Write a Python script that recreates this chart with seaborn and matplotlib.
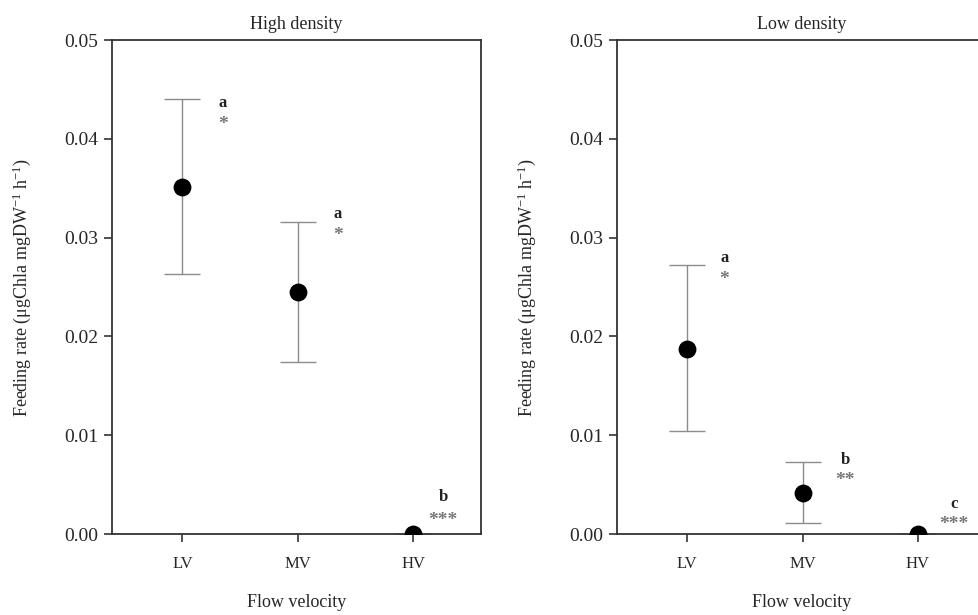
import numpy as np
import pandas as pd
import matplotlib
matplotlib.use("Agg")
import matplotlib.pyplot as plt
import seaborn as sns

# values
categories = ["LV", "MV", "HV"]
high_mean = [0.0351, 0.0245, 0.0]
high_upper = [0.0440, 0.0316, 0.0]
high_lower = [0.0263, 0.0174, 0.0]
high_letters = ["a", "a", "b"]
high_stars = ["*", "*", "***"]
high_label_dx = [0.35, 0.35, 0.26]
high_letter_y = [0.0436, 0.0324, 0.0037]
high_star_y = [0.0419, 0.0306, 0.0018]

low_mean = [0.0187, 0.0042, 0.0]
low_upper = [0.0272, 0.0073, 0.0]
low_lower = [0.0104, 0.0011, 0.0]
low_letters = ["a", "b", "c"]
low_stars = ["*", "**", "***"]
low_label_dx = [0.32, 0.37, 0.31]
low_letter_y = [0.0279, 0.0075, 0.0030]
low_star_y = [0.0262, 0.0058, 0.0014]

sns.set_style("white")
plt.rcParams['font.family'] = ['Liberation Serif', 'DejaVu Serif']
plt.rcParams['mathtext.default'] = 'regular'

fig = plt.figure(figsize=(9.79, 6.15), dpi=100)
ax1 = fig.add_axes([0.1144, 0.1317, 0.377, 0.803])
ax2 = fig.add_axes([0.6302, 0.1317, 0.377, 0.803])


def draw_panel(ax, title, mean, upper, lower, letters, stars, dx, letter_y, star_y):
    df = pd.DataFrame({"velocity": categories, "rate": mean})
    x = np.arange(len(categories))
    yerr = [np.array(mean) - np.array(lower), np.array(upper) - np.array(mean)]
    ax.errorbar(x, mean, yerr=yerr, fmt="none", ecolor="#8c8c8c",
                elinewidth=1.0, capsize=13, capthick=1.0, zorder=2)
    sns.scatterplot(data=df, x="velocity", y="rate", ax=ax, color="black",
                    s=165, edgecolor="black", linewidth=0, zorder=3)
    for xi, d, ly, sy, let, st in zip(x, dx, letter_y, star_y, letters, stars):
        ax.text(xi + d, ly, let, ha="center", va="center", fontsize=12,
                color="#222222", fontweight="bold")
        # asterisk glyph sits high in its box, shift box down a bit
        ax.text(xi + d, sy - 0.0004, st, ha="center", va="center", fontsize=14,
                color="#777777", fontweight="bold")
    ax.set_xlim(-0.61, 2.59)
    ax.set_ylim(0, 0.05)
    ax.set_yticks([0, 0.01, 0.02, 0.03, 0.04, 0.05])
    ax.set_yticklabels(["0.00", "0.01", "0.02", "0.03", "0.04", "0.05"], fontsize=14)
    ax.set_xticks(x)
    ax.set_xticklabels(categories, fontsize=12)
    ax.tick_params(axis="y", direction="out", length=6, width=1.2, left=True,
                   color="#333333", pad=4)
    ax.tick_params(axis="x", direction="out", length=6, width=1.2, bottom=True,
                   color="#333333", pad=10)
    for sp in ax.spines.values():
        sp.set_color("#333333")
        sp.set_linewidth(1.3)
    ax.set_title(title, fontsize=13, pad=8)
    ax.set_xlabel("Flow velocity", fontsize=13, labelpad=16)
    ax.set_ylabel("Feeding rate (μgChla mgDW$^{-1}$ h$^{-1}$)", fontsize=13,
                  labelpad=22)


draw_panel(ax1, "High density", high_mean, high_upper, high_lower,
           high_letters, high_stars, high_label_dx, high_letter_y, high_star_y)
draw_panel(ax2, "Low density", low_mean, low_upper, low_lower,
           low_letters, low_stars, low_label_dx, low_letter_y, low_star_y)

fig.savefig("out.png", dpi=100)
